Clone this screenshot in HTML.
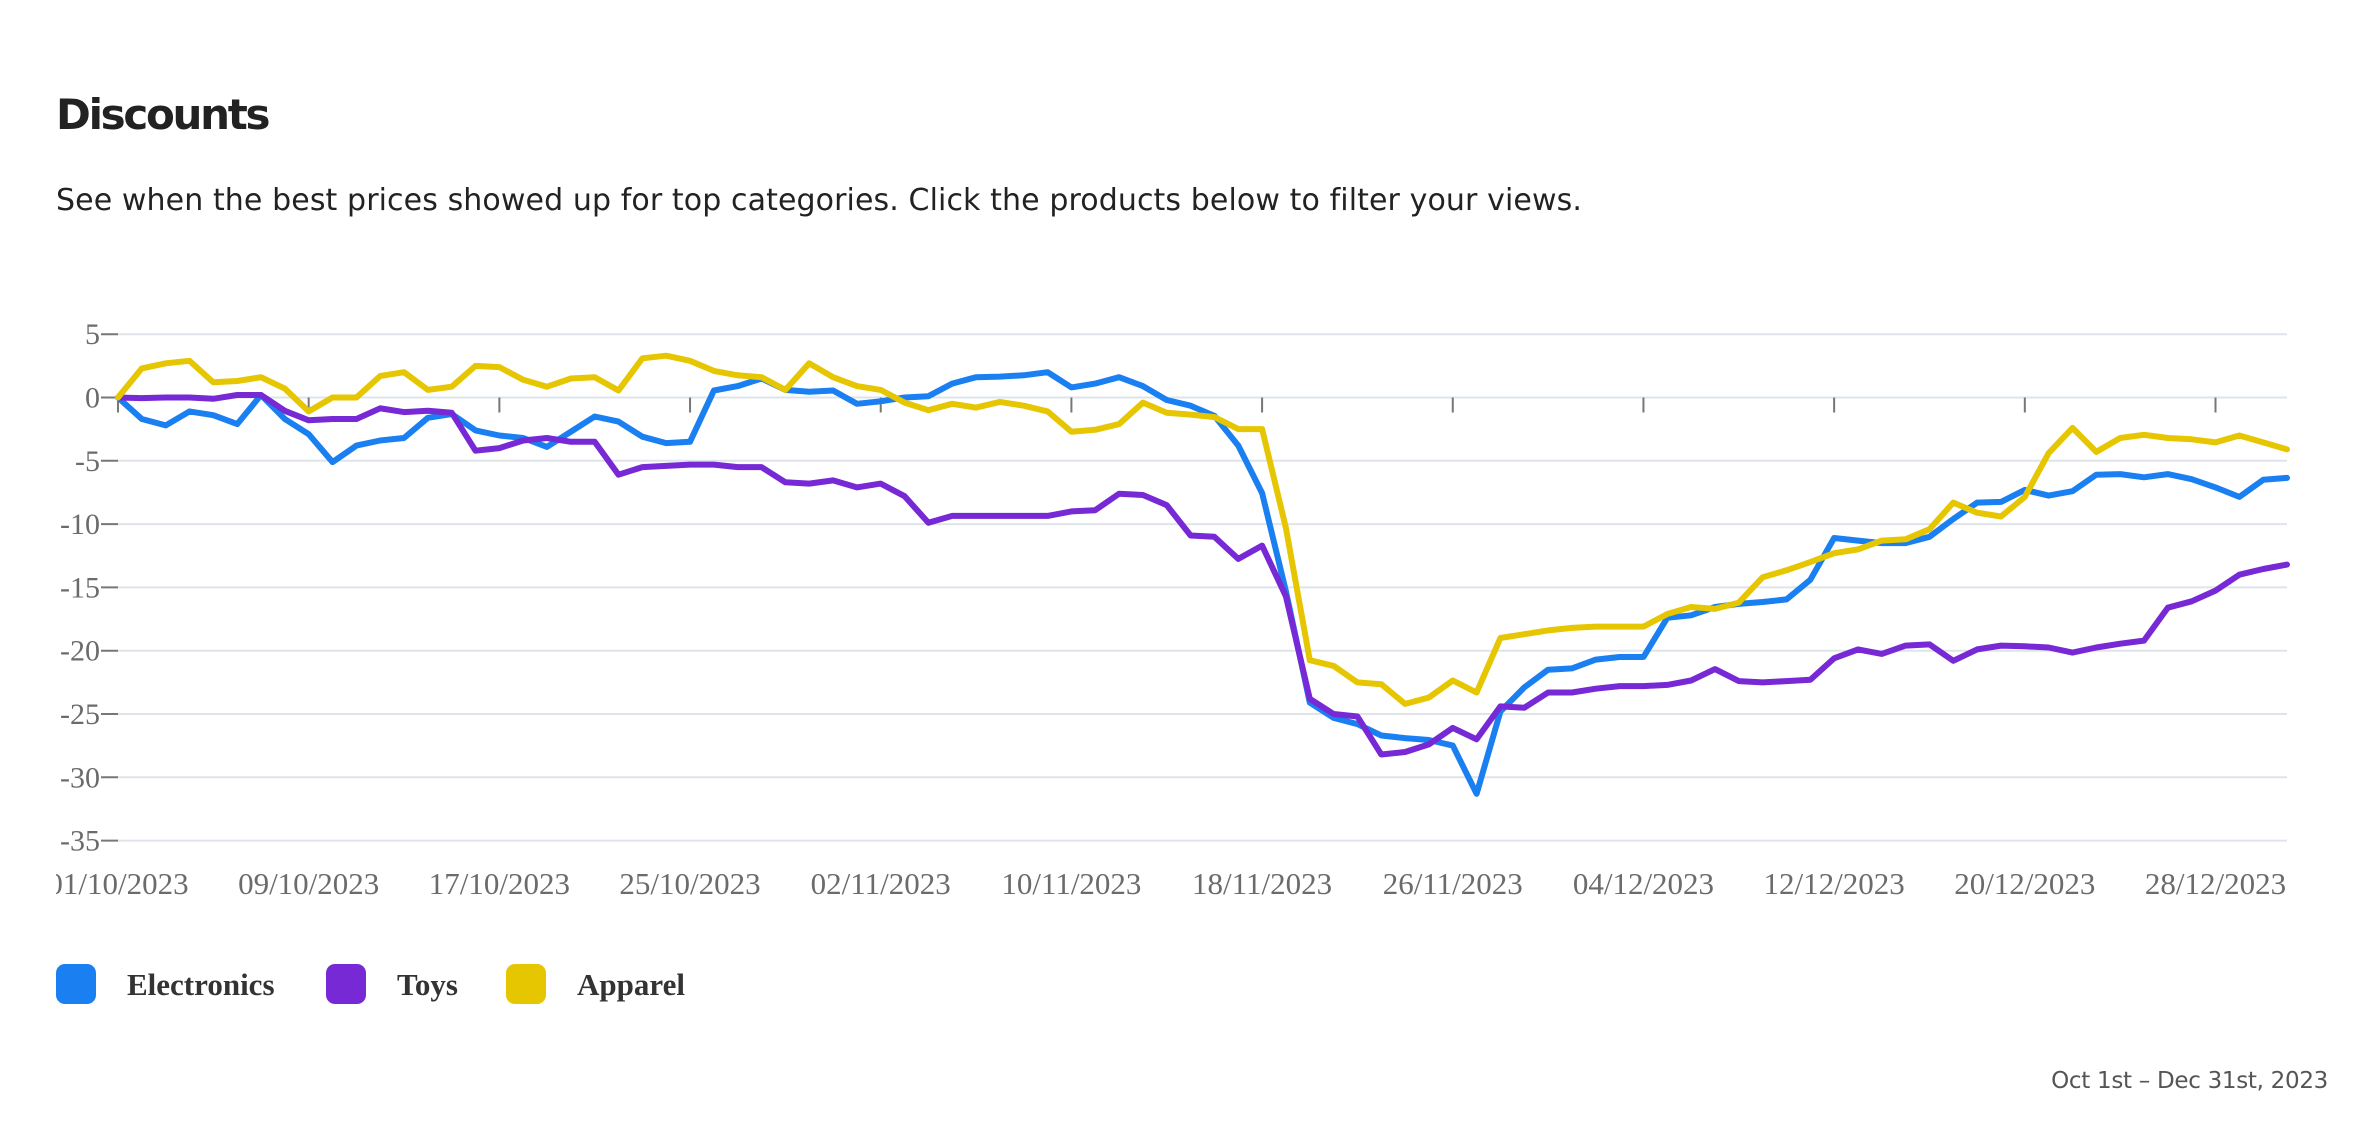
<!DOCTYPE html>
<html><head><meta charset="utf-8">
<style>
html,body{margin:0;padding:0;background:#fff;}
body{width:2370px;height:1134px;position:relative;overflow:hidden;}
.title{position:absolute;left:56px;top:90px;font:bold 42px "DejaVu Sans","Liberation Sans",sans-serif;color:#222;letter-spacing:-2.3px;}
.sub{position:absolute;left:56px;top:183px;font:30px "DejaVu Sans","Liberation Sans",sans-serif;color:#222;letter-spacing:0.1px;}
.foot{position:absolute;right:42px;top:1068px;font:23px "DejaVu Sans","Liberation Sans",sans-serif;color:#555;letter-spacing:-0.3px;}
svg{position:absolute;left:0;top:0;}
</style></head>
<body>
<div class="title">Discounts</div>
<div class="sub">See when the best prices showed up for top categories. Click the products below to filter your views.</div>
<svg id="chart" width="2370" height="1134"></svg>
<div class="foot">Oct 1st – Dec 31st, 2023</div>
<script>
const startDate = [2023, 9, 1];
const yTicks = [5,0,-5,-10,-15,-20,-25,-30,-35];
const seriesNames = ["Electronics","Toys","Apparel"];
const seriesColors = ["#1a7ff0","#7629d4","#e6c600"];
const electronics = [0,-1.7,-2.2,-1.1,-1.4,-2.1,0.2,-1.7,-2.9,-5.1,-3.8,-3.4,-3.2,-1.6,-1.3,-2.6,-3.0,-3.2,-3.9,-2.7,-1.5,-1.9,-3.1,-3.6,-3.5,0.55,0.9,1.5,0.6,
0.45,0.55,-0.5,-0.3,0.0,0.1,1.1,1.6,1.65,1.75,2.0,0.8,1.1,1.6,0.9,-0.2,-0.65,-1.45,-3.8,-7.55,-15.3,-24.1,-25.3,-25.8,-26.7,-26.9,-27.05,-27.5,-31.3,-24.8,-22.9,-21.5,-21.4,
-20.7,-20.5,-20.5,-17.4,-17.2,-16.55,-16.3,-16.15,-15.95,-14.4,-11.1,-11.3,-11.5,-11.5,-11.0,-9.6,-8.3,-8.25,-7.3,-7.75,-7.4,-6.1,-6.05,-6.3,-6.05,-6.45,-7.1,-7.85,-6.5,-6.35];
const toys = [0,-0.05,0,0,-0.1,0.2,0.2,-1.05,-1.8,-1.7,-1.7,-0.85,-1.15,-1.05,-1.2,-4.2,-4.0,-3.4,-3.2,-3.5,-3.5,-6.1,-5.5,-5.4,-5.3,-5.3,-5.5,-5.5,-6.7,
-6.8,-6.55,-7.1,-6.8,-7.8,-9.9,-9.35,-9.35,-9.35,-9.35,-9.35,-9.0,-8.9,-7.6,-7.7,-8.5,-10.9,-11.0,-12.75,-11.7,-15.7,-23.8,-25.0,-25.2,-28.2,-28.0,-27.4,-26.1,-27.0,-24.4,-24.5,-23.3,-23.3,
-23.0,-22.8,-22.8,-22.7,-22.35,-21.45,-22.4,-22.5,-22.4,-22.3,-20.6,-19.9,-20.25,-19.6,-19.5,-20.8,-19.9,-19.6,-19.65,-19.75,-20.15,-19.75,-19.45,-19.2,-16.6,-16.1,-15.25,-14.0,-13.55,-13.2];
const apparel = [0,2.3,2.7,2.9,1.2,1.3,1.6,0.7,-1.1,0,0,1.7,2.0,0.6,0.85,2.5,2.4,1.4,0.85,1.5,1.6,0.55,3.1,3.3,2.9,2.1,1.75,1.6,0.6,
2.7,1.6,0.9,0.6,-0.4,-1.0,-0.5,-0.8,-0.35,-0.65,-1.1,-2.7,-2.55,-2.1,-0.4,-1.2,-1.35,-1.55,-2.5,-2.5,-10.3,-20.75,-21.2,-22.5,-22.65,-24.2,-23.7,-22.35,-23.3,-19.0,-18.7,-18.4,-18.2,
-18.1,-18.1,-18.1,-17.1,-16.55,-16.7,-16.2,-14.2,-13.65,-13.0,-12.3,-12.0,-11.3,-11.2,-10.4,-8.3,-9.1,-9.4,-7.85,-4.4,-2.4,-4.3,-3.2,-2.95,-3.2,-3.3,-3.55,-3.0,-3.55,-4.1];
const allSeries = [electronics, toys, apparel];

const NS = "http://www.w3.org/2000/svg";
const svg = document.getElementById('chart');
const X0 = 118, X1 = 2287, nDays = electronics.length;
const yPx0 = 397.5, pxPerUnit = 12.66;
function xs(i){ return X0 + (X1 - X0) * i / (nDays - 1); }
function ys(v){ return yPx0 - v * pxPerUnit; }
function mk(tag, attrs){ const e = document.createElementNS(NS, tag); for (const k in attrs) e.setAttribute(k, attrs[k]); svg.appendChild(e); return e; }
function fmtDate(i){ const d = new Date(startDate[0], startDate[1], startDate[2] + i); const p = n => String(n).padStart(2,'0'); return p(d.getDate())+'/'+p(d.getMonth()+1)+'/'+d.getFullYear(); }

const defs = mk('defs', {});
const cp = document.createElementNS(NS,'clipPath'); cp.setAttribute('id','clipx');
const cr = document.createElementNS(NS,'rect'); cr.setAttribute('x',56); cr.setAttribute('y',0); cr.setAttribute('width',2300); cr.setAttribute('height',1134);
cp.appendChild(cr); defs.appendChild(cp);

yTicks.forEach(t => {
  const g = mk('line', {x1:X0, x2:X1, y1:ys(t), y2:ys(t), stroke:'#dfe4ea', 'stroke-width':2});
  
  
  const tk = mk('line', {x1:X0-17, x2:X0, y1:ys(t), y2:ys(t), stroke:'#777', 'stroke-width':2});
  
  
  const tx = mk('text', {x:X0-18, y:ys(t)+10, 'text-anchor':'end', 'font-family':'"Liberation Serif",serif', 'font-size':30, fill:'#6b6b6b'});
  tx.textContent = t;
  
  
});

for (let i = 0; i < nDays; i += 8) {
  const tk = mk('line', {x1:xs(i), x2:xs(i), y1:yPx0, y2:yPx0+15, stroke:'#777', 'stroke-width':2});
  
  
  const tx = mk('text', {x:xs(i), y:894, 'text-anchor':'middle', 'font-family':'"Liberation Serif",serif', 'font-size':31, fill:'#6b6b6b', 'clip-path':'url(#clipx)'});
  tx.textContent = fmtDate(i);
  
  
}

allSeries.forEach((s, k) => {
  const pts = s.map((v, i) => xs(i).toFixed(1) + ',' + ys(v).toFixed(1)).join(' ');
  const pl = mk('polyline', {points:pts, fill:'none', stroke:seriesColors[k], 'stroke-width':6, 'stroke-linejoin':'round', 'stroke-linecap':'round'});
  
  
});

const legX = [56, 326, 506];
seriesNames.forEach((n, k) => {
  const r = mk('rect', {x:legX[k], y:964, width:40, height:40, rx:9, fill:seriesColors[k]});
  
  
  const t = mk('text', {x:legX[k]+71, y:995, 'font-family':'"Liberation Serif",serif', 'font-weight':'bold', 'font-size':31, fill:'#333'});
  t.textContent = n;
  
  
});
</script>
</body></html>
